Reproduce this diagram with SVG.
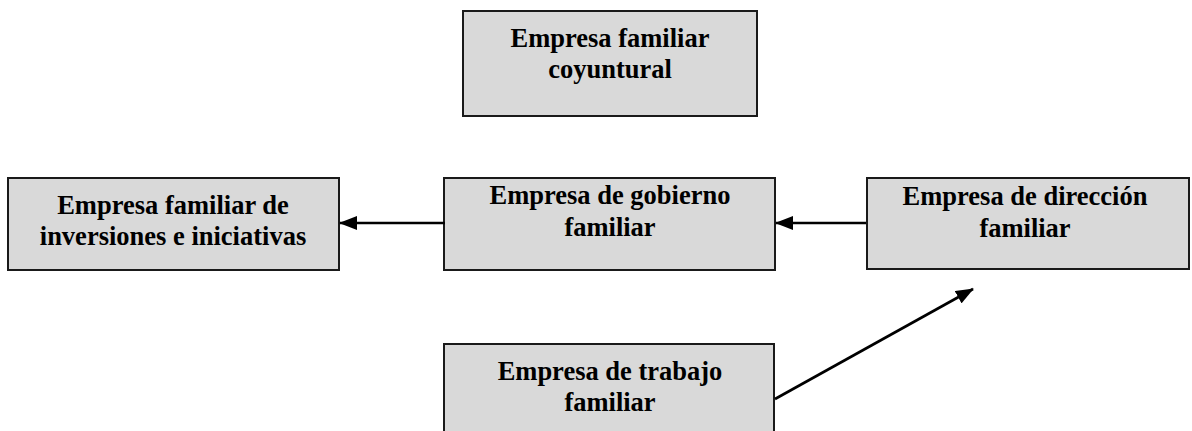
<svg xmlns="http://www.w3.org/2000/svg" width="1192" height="431" viewBox="0 0 1192 431">
<style>
.box{fill:#d9d9d9;stroke:#1a1a1a;stroke-width:2}
.t{font-family:"Liberation Serif","Times New Roman",serif;font-weight:bold;font-size:26.5px;fill:#000;text-anchor:middle}
.c{stroke:#000;stroke-width:2.6;fill:none;marker-end:url(#ah)}
</style>
<defs>
<marker id="ah" markerUnits="userSpaceOnUse" markerWidth="18" markerHeight="14" refX="17" refY="7" orient="auto">
<path d="M0,0 L18,7 L0,14 z" fill="#000"/>
</marker>
</defs>
<rect width="1192" height="431" fill="#fff"/>
<g id="n-coyuntural">
<rect class="box" x="463" y="11" width="294" height="105"/>
<text class="t" x="610" y="47">Empresa familiar</text>
<text class="t" x="610" y="78">coyuntural</text>
</g>
<g id="n-inversiones">
<rect class="box" x="8" y="178" width="331" height="92"/>
<text class="t" x="173" y="214">Empresa familiar de</text>
<text class="t" x="173" y="245">inversiones e iniciativas</text>
</g>
<g id="n-gobierno">
<rect class="box" x="444" y="178" width="331" height="92"/>
<text class="t" x="610" y="204">Empresa de gobierno</text>
<text class="t" x="610" y="236">familiar</text>
</g>
<g id="n-direccion">
<rect class="box" x="867" y="178" width="322" height="91"/>
<text class="t" x="1025" y="205">Empresa de dirección</text>
<text class="t" x="1025" y="237">familiar</text>
</g>
<g id="n-trabajo">
<rect class="box" x="444" y="344" width="330" height="100"/>
<text class="t" x="610" y="380">Empresa de trabajo</text>
<text class="t" x="610" y="411">familiar</text>
</g>
<g id="connectors">
<line class="c" x1="445" y1="223" x2="340" y2="223"/>
<line class="c" x1="866" y1="223" x2="776" y2="223"/>
<line class="c" x1="775" y1="399" x2="973" y2="289"/>
</g>
</svg>
